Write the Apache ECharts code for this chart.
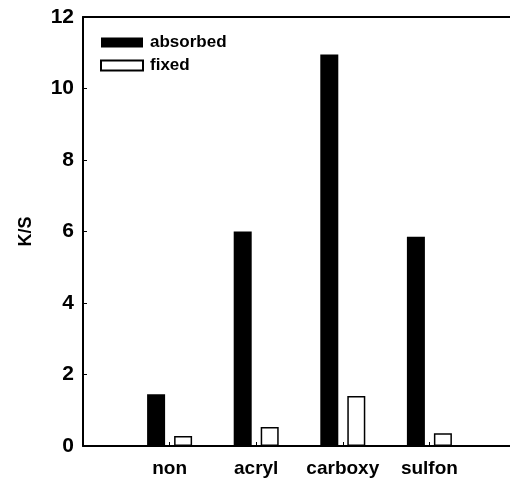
<!DOCTYPE html>
<html>
<head>
<meta charset="utf-8">
<script src="https://cdn.jsdelivr.net/npm/echarts@6/dist/echarts.min.js"></script>
<style>
html,body{margin:0;padding:0;background:#fff;}
#c{width:510px;height:479px;}
</style>
</head>
<body>
<div id="c"></div>
<script>
const categories = ['non', 'acryl', 'carboxy', 'sulfon'];
const absorbed = [1.45, 6.0, 10.95, 5.85];
const fixed = [0.28, 0.53, 1.40, 0.36];
const yTicks = [0, 2, 4, 6, 8, 10, 12];

// pad one empty slot on each side so the categories sit inside a wider axis
const cats = [''].concat(categories, ['']);
const pad = arr => ['-'].concat(arr, ['-']);

const font = 'Liberation Sans, Arial, sans-serif';
const chart = echarts.init(document.getElementById('c'), null, {renderer: 'canvas'});
chart.setOption({
  animation: false,
  backgroundColor: '#fff',
  grid: {
    left: 83, top: 17, width: 433, height: 429,
    outerBoundsMode: 'none',
    containLabel: false,
    show: false
  },
  legend: {
    orient: 'vertical',
    left: 100, top: 34,
    itemWidth: 42, itemHeight: 10, itemGap: 6,
    padding: 0,
    icon: 'rect',
    textStyle: {fontFamily: font, fontWeight: 'bold', fontSize: 17, color: '#000', lineHeight: 17, padding: [0, 0, 0, 2]},
    data: ['absorbed', 'fixed']
  },
  xAxis: [{
    type: 'category',
    data: cats,
    boundaryGap: false,
    axisLine: {lineStyle: {color: '#000', width: 2}},
    axisTick: {inside: true, length: 4, lineStyle: {color: '#000', width: 1}},
    axisLabel: {fontFamily: font, fontWeight: 'bold', fontSize: 19, color: '#000', margin: 13, interval: 0},
    splitLine: {show: false}
  }, {
    type: 'category',
    data: cats,
    position: 'top',
    boundaryGap: false,
    axisLine: {show: true, lineStyle: {color: '#000', width: 2}},
    axisTick: {show: false},
    axisLabel: {show: false},
    splitLine: {show: false}
  }],
  yAxis: {
    type: 'value',
    min: yTicks[0], max: yTicks[yTicks.length - 1], interval: 2,
    name: 'K/S',
    nameLocation: 'middle',
    nameRotate: 90,
    nameGap: 48,
    nameTextStyle: {fontFamily: font, fontWeight: 'bold', fontSize: 18, color: '#000'},
    axisLine: {show: true, lineStyle: {color: '#000', width: 2}},
    axisTick: {show: true, inside: true, length: 4, lineStyle: {color: '#000', width: 1}},
    axisLabel: {fontFamily: font, fontWeight: 'bold', fontSize: 21, color: '#000', margin: 9},
    splitLine: {show: false}
  },
  series: [
    {
      name: 'absorbed', type: 'bar', data: pad(absorbed),
      barWidth: 18, barGap: '50%',
      itemStyle: {color: '#000', borderColor: '#000', borderWidth: 0}
    },
    {
      name: 'fixed', type: 'bar', data: pad(fixed),
      barWidth: 18,
      itemStyle: {color: '#fff', borderColor: '#000', borderWidth: 1.5}
    }
  ]
});
</script>
</body>
</html>
